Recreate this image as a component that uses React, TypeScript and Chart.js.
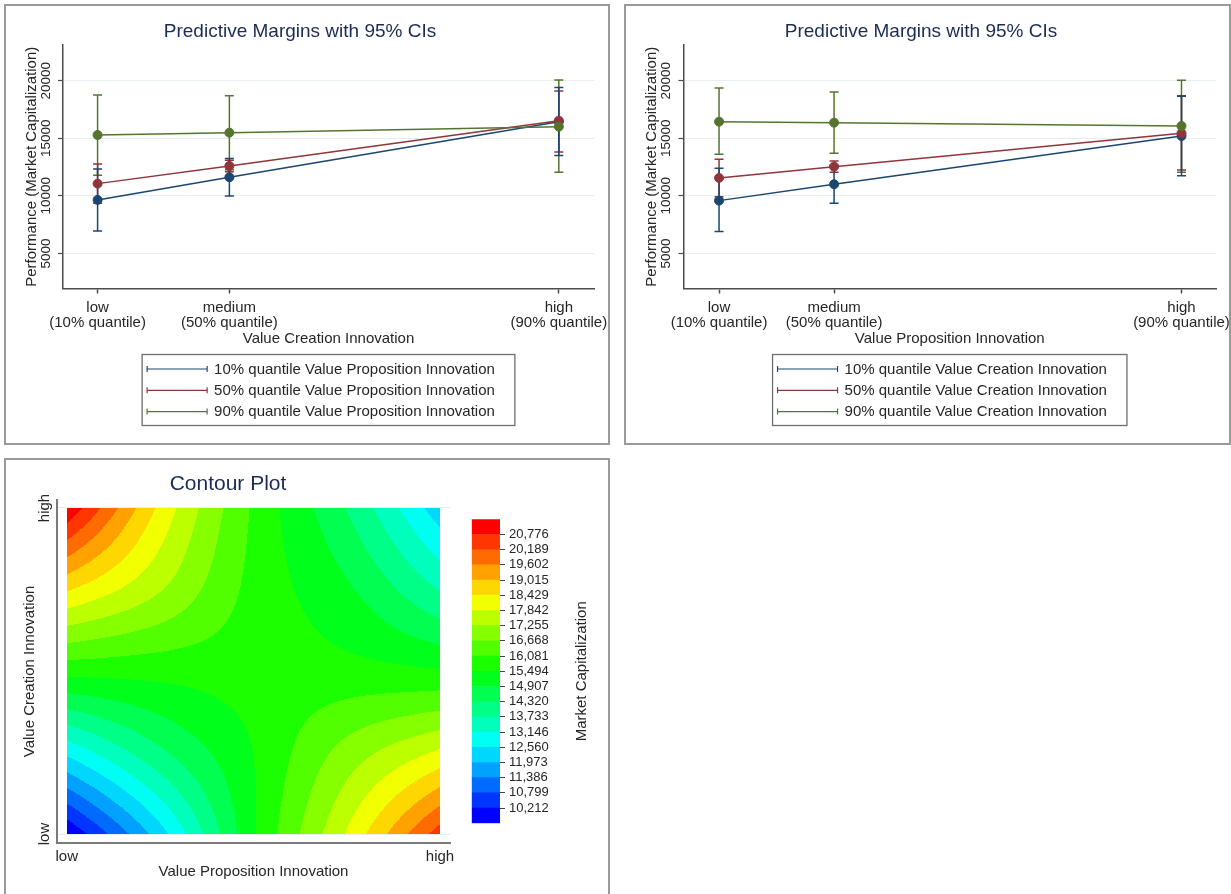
import React, { useEffect, useRef } from 'react';
import { Chart, registerables } from 'chart.js';

Chart.register(...registerables);

const FONT = "'Liberation Sans', Arial, Helvetica, sans-serif";
Chart.defaults.font.family = FONT;

// ---------------- data: predictive margins ----------------
const quantileTickLabels = [
  ['low', '(10% quantile)'],
  ['medium', '(50% quantile)'],
  ['high', '(90% quantile)'],
];
const marginYTicks = [5000, 10000, 15000, 20000];
const marginYRange = [1950, 23100];

// quantile values of the x-axis variable (relative units)
const vciQuantiles = [0, 1, 3.5];
const vpiQuantiles = [0, 1, 4.02];

const vpiSeriesNames = [
  '10% quantile Value Proposition Innovation',
  '50% quantile Value Proposition Innovation',
  '90% quantile Value Proposition Innovation',
];
const vciSeriesNames = [
  '10% quantile Value Creation Innovation',
  '50% quantile Value Creation Innovation',
  '90% quantile Value Creation Innovation',
];

// Panel 1: x = Value Creation Innovation, series = VPI quantile
const p1Margin10 = [9644, 11615, 16441];
const p1Lower10 = [6953, 9991, 13500];
const p1Upper10 = [12335, 13240, 19400];
const p1Margin50 = [11059, 12595, 16528];
const p1Lower50 = [9350, 12100, 13800];
const p1Upper50 = [12770, 13090, 19100];
const p1Margin90 = [15286, 15486, 16007];
const p1Lower90 = [11780, 12274, 12049];
const p1Upper90 = [18759, 18698, 20060];

// Panel 2: x = Value Proposition Innovation, series = VCI quantile
const p2Margin10 = [9583, 11007, 15200];
const p2Lower10 = [6892, 9358, 11750];
const p2Upper10 = [12396, 12656, 18650];
const p2Margin50 = [11553, 12535, 15434];
const p2Lower50 = [9929, 12050, 12250];
const p2Upper50 = [13177, 13020, 18700];
const p2Margin90 = [16441, 16354, 16068];
const p2Lower90 = [13611, 13698, 12050];
const p2Upper90 = [19366, 19019, 20035];

// ---------------- data: contour ----------------
const contourAxisLabels = ['low', 'high'];
const contourVPI = [0, 0.25, 0.5, 0.75, 1];
const contourVCI = [0, 0.25, 0.5, 0.75, 1];
// rows: VCI low -> high, columns: VPI low -> high
const contourZ = [
  [9650, 12300, 15400, 17900, 20500],
  [12700, 14200, 15500, 16900, 17950],
  [15700, 15700, 15750, 15700, 15550],
  [18500, 17300, 15900, 15000, 13700],
  [21300, 18300, 16000, 14300, 12200],
];
const contourLevels = [
  10212, 10799, 11386, 11973, 12560, 13146, 13733, 14320, 14907, 15494,
  16081, 16668, 17255, 17842, 18429, 19015, 19602, 20189, 20776,
];
const contourZRange = [9625, 21363];

// ---------------- styles ----------------
const TEXT = '#262626';
const TITLE = '#1c2b55';
const AXIS = '#4d4d4d';
const GRID = '#e8eff1';
const seriesColors = ['#1a476f', '#90353b', '#55752f'];

function hsvRgb(h: number): [number, number, number] {
  const f = (n: number) => {
    const k = (n + h / 60) % 6;
    return Math.round(255 * (1 - Math.max(0, Math.min(k, 4 - k, 1))));
  };
  return [f(5), f(3), f(1)];
}
const bandCount = contourLevels.length + 1;
const bandRGB = Array.from({ length: bandCount }, (_, k) => hsvRgb(240 - (240 * k) / (bandCount - 1)));
const bandCss = bandRGB.map(([r, g, b]) => `rgb(${r},${g},${b})`);

// ---------------- surface sampling for the filled contour ----------------
function cubic(p0: number, p1: number, p2: number, p3: number, t: number) {
  return p1 + 0.5 * t * (p2 - p0 + t * (2 * p0 - 5 * p1 + 4 * p2 - p3 + t * (3 * (p1 - p2) + p3 - p0)));
}
function nodeAt(arr: number[], i: number) {
  const n = arr.length;
  if (i < 0) return 2 * arr[0] - arr[1];
  if (i >= n) return 2 * arr[n - 1] - arr[n - 2];
  return arr[i];
}
function rowAt(j: number): number[] {
  const m = contourZ.length;
  if (j < 0) return contourZ[0].map((v, i) => 2 * v - contourZ[1][i]);
  if (j >= m) return contourZ[m - 1].map((v, i) => 2 * v - contourZ[m - 2][i]);
  return contourZ[j];
}
function locate(arr: number[], v: number) {
  const n = arr.length;
  const c = Math.max(arr[0], Math.min(arr[n - 1], v));
  let i = 0;
  while (i < n - 2 && c > arr[i + 1]) i++;
  return i + (c - arr[i]) / (arr[i + 1] - arr[i]);
}
function surface(x: number, y: number) {
  const gx = locate(contourVPI, x);
  const gy = locate(contourVCI, y);
  const ix = Math.min(Math.floor(gx), contourVPI.length - 2);
  const iy = Math.min(Math.floor(gy), contourVCI.length - 2);
  const tx = gx - ix;
  const ty = gy - iy;
  const vals = [-1, 0, 1, 2].map((d) => {
    const r = rowAt(iy + d);
    return cubic(nodeAt(r, ix - 1), nodeAt(r, ix), nodeAt(r, ix + 1), nodeAt(r, ix + 2), tx);
  });
  return cubic(vals[0], vals[1], vals[2], vals[3], ty);
}

// ---------------- plugins ----------------
function makeCiLegend(names: string[]) {
  return {
    id: 'ciLegend',
    afterDraw(chart: any) {
      const ctx = chart.ctx;
      const xs = chart.scales.x;
      const ca = chart.chartArea;
      ctx.save();
      ctx.font = `15px ${FONT}`;
      const textW = Math.max(...names.map((n) => ctx.measureText(n).width));
      const boxW = 5 + 60 + 7 + textW + 20;
      const boxH = 71;
      const left = (ca.left + ca.right) / 2 - boxW / 2;
      const top = xs.bottom + 7;
      ctx.strokeStyle = '#6f6f6f';
      ctx.lineWidth = 1.3;
      ctx.strokeRect(left, top, boxW, boxH);
      names.forEach((n, i) => {
        const y = top + 14.5 + i * 21.3;
        const sx0 = left + 5;
        const sx1 = left + 65;
        ctx.strokeStyle = seriesColors[i];
        ctx.lineWidth = 1.2;
        ctx.beginPath();
        ctx.moveTo(sx0, y);
        ctx.lineTo(sx1, y);
        ctx.moveTo(sx0, y - 3);
        ctx.lineTo(sx0, y + 3);
        ctx.moveTo(sx1, y - 3);
        ctx.lineTo(sx1, y + 3);
        ctx.stroke();
        ctx.fillStyle = TEXT;
        ctx.textAlign = 'left';
        ctx.textBaseline = 'middle';
        ctx.fillText(n, left + 72, y + 0.5);
      });
      ctx.restore();
    },
  };
}

const contourFill = {
  id: 'contourFill',
  beforeDatasetsDraw(chart: any) {
    const xs = chart.scales.x;
    const ys = chart.scales.y;
    const x0 = Math.round(xs.getPixelForValue(contourVPI[0]));
    const x1 = Math.round(xs.getPixelForValue(contourVPI[contourVPI.length - 1]));
    const y0 = Math.round(ys.getPixelForValue(contourVCI[contourVCI.length - 1]));
    const y1 = Math.round(ys.getPixelForValue(contourVCI[0]));
    const w = x1 - x0;
    const h = y1 - y0;
    if (w <= 0 || h <= 0) return;
    const off = document.createElement('canvas');
    off.width = w;
    off.height = h;
    const octx = off.getContext('2d')!;
    const img = octx.createImageData(w, h);
    for (let j = 0; j < h; j++) {
      const vy = ys.getValueForPixel(y0 + j + 0.5);
      for (let i = 0; i < w; i++) {
        const vx = xs.getValueForPixel(x0 + i + 0.5);
        const z = surface(vx, vy);
        let k = 0;
        while (k < contourLevels.length && z >= contourLevels[k]) k++;
        const c = bandRGB[k];
        const p = (j * w + i) * 4;
        img.data[p] = c[0];
        img.data[p + 1] = c[1];
        img.data[p + 2] = c[2];
        img.data[p + 3] = 255;
      }
    }
    octx.putImageData(img, 0, 0);
    chart.ctx.drawImage(off, x0, y0);
  },
};

const colorbarTitle = {
  id: 'colorbarTitle',
  afterDraw(chart: any) {
    const ctx = chart.ctx;
    const ca = chart.chartArea;
    ctx.save();
    ctx.translate(119.7, (ca.top + ca.bottom) / 2);
    ctx.rotate(-Math.PI / 2);
    ctx.font = `15px ${FONT}`;
    ctx.fillStyle = TEXT;
    ctx.textAlign = 'center';
    ctx.textBaseline = 'middle';
    ctx.fillText('Market Capitalization', 0, 0);
    ctx.restore();
  },
};

// ---------------- chart configs ----------------
type Series = { margin: number[]; lower: number[]; upper: number[] };

function marginsConfig(opts: {
  xVals: number[];
  xMin: number;
  xMax: number;
  xTitle: string;
  names: string[];
  series: Series[];
  yWidth: number;
  padRight: number;
}): any {
  const { xVals, names, series } = opts;
  const ciSets = series.map((s, i) => ({
    label: names[i] + ' CI',
    data: xVals.flatMap((x, j) => [
      { x, y: s.lower[j] },
      { x, y: s.upper[j] },
      { x, y: null },
    ]),
    showLine: true,
    spanGaps: false,
    borderColor: seriesColors[i],
    borderWidth: 1.5,
    pointStyle: 'line',
    pointRadius: 4.5,
    pointHoverRadius: 4.5,
    pointBorderColor: seriesColors[i],
    pointBorderWidth: 1.5,
    order: 10 + i,
  }));
  const lineSets = series.map((s, i) => ({
    label: names[i],
    data: xVals.map((x, j) => ({ x, y: s.margin[j] })),
    showLine: true,
    borderColor: seriesColors[i],
    borderWidth: 1.5,
    pointStyle: 'circle',
    pointRadius: 4.5,
    pointHoverRadius: 4.5,
    pointBackgroundColor: seriesColors[i],
    pointBorderColor: seriesColors[i],
    pointBorderWidth: 1,
    order: 3 - i,
  }));
  return {
    type: 'scatter',
    data: { datasets: [...ciSets, ...lineSets] },
    options: {
      responsive: false,
      animation: false,
      events: [],
      layout: { padding: { left: 0, right: opts.padRight, top: 0, bottom: 95.5 } },
      plugins: {
        legend: { display: false },
        tooltip: { enabled: false },
        title: {
          display: true,
          text: 'Predictive Margins with 95% CIs',
          color: TITLE,
          font: { size: 19, weight: 'normal', lineHeight: 1.2 },
          padding: { top: 14.6, bottom: 1.6 },
        },
      },
      scales: {
        x: {
          type: 'linear',
          min: opts.xMin,
          max: opts.xMax,
          afterBuildTicks: (s: any) => {
            s.ticks = xVals.map((v) => ({ value: v }));
          },
          afterFit: (s: any) => {
            s.height = 59;
            s.paddingLeft = 0;
            s.paddingRight = 0;
          },
          ticks: {
            autoSkip: false,
            minRotation: 0,
            maxRotation: 0,
            padding: 6.5,
            color: TEXT,
            font: { size: 15, lineHeight: 1 },
            callback: (_v: any, i: number) => quantileTickLabels[i],
          },
          grid: {
            drawOnChartArea: false,
            drawTicks: true,
            tickLength: 5,
            tickColor: AXIS,
            tickWidth: 1.5,
          },
          border: { display: true, color: AXIS, width: 1.5 },
          title: {
            display: true,
            text: opts.xTitle,
            color: TEXT,
            font: { size: 15, lineHeight: 1.2 },
            padding: { top: 0, bottom: 0 },
          },
        },
        y: {
          type: 'linear',
          min: marginYRange[0],
          max: marginYRange[1],
          afterBuildTicks: (s: any) => {
            s.ticks = marginYTicks.map((v) => ({ value: v }));
          },
          afterFit: (s: any) => {
            s.width = opts.yWidth;
          },
          ticks: {
            autoSkip: false,
            minRotation: 90,
            maxRotation: 90,
            crossAlign: 'center',
            padding: -7,
            color: TEXT,
            font: { size: 13.5 },
            callback: (v: any) => String(v),
          },
          grid: {
            color: GRID,
            lineWidth: 1,
            drawTicks: true,
            tickLength: 5,
            tickColor: AXIS,
            tickWidth: 1.2,
          },
          border: { display: true, color: AXIS, width: 1.5 },
          title: {
            display: true,
            text: 'Performance (Market Capitalization)',
            color: TEXT,
            font: { size: 15, lineHeight: 1.2 },
            padding: { top: 17, bottom: 0 },
          },
        },
      },
    },
    plugins: [makeCiLegend(names)],
  };
}

function contourConfig(): any {
  return {
    type: 'scatter',
    data: { datasets: [] },
    options: {
      responsive: false,
      animation: false,
      events: [],
      layout: { padding: { left: 0, right: 50, top: 0, bottom: 13.3 } },
      plugins: {
        legend: { display: false },
        tooltip: { enabled: false },
        title: {
          display: true,
          text: 'Contour Plot',
          color: TITLE,
          font: { size: 21, weight: 'normal', lineHeight: 1.2 },
          padding: { top: 11.4, bottom: 3.4 },
        },
      },
      scales: {
        x: {
          type: 'linear',
          min: -0.026,
          max: 1.0268,
          afterBuildTicks: (s: any) => {
            s.ticks = [contourVPI[0], contourVPI[contourVPI.length - 1]].map((v) => ({ value: v }));
          },
          afterFit: (s: any) => {
            s.height = 37.7;
            s.paddingLeft = 0;
            s.paddingRight = 0;
          },
          ticks: {
            autoSkip: false,
            minRotation: 0,
            maxRotation: 0,
            padding: 6.5,
            color: TEXT,
            font: { size: 15, lineHeight: 1 },
            callback: (_v: any, i: number) => contourAxisLabels[i],
          },
          grid: { drawOnChartArea: false, drawTicks: false },
          border: { display: true, color: '#7a7a7a', width: 2 },
          title: {
            display: true,
            text: 'Value Proposition Innovation',
            color: TEXT,
            font: { size: 15, lineHeight: 1.2 },
            padding: { top: 0, bottom: 0 },
          },
        },
        y: {
          type: 'linear',
          min: -0.0276,
          max: 1.0245,
          afterBuildTicks: (s: any) => {
            s.ticks = [contourVCI[0], contourVCI[contourVCI.length - 1]].map((v) => ({ value: v }));
          },
          afterFit: (s: any) => {
            s.width = 51;
          },
          ticks: {
            autoSkip: false,
            minRotation: 90,
            maxRotation: 90,
            crossAlign: 'center',
            padding: -2.2,
            color: TEXT,
            font: { size: 15 },
            callback: (_v: any, i: number) => contourAxisLabels[i],
          },
          grid: { color: GRID, lineWidth: 1, drawTicks: false },
          border: { display: true, color: '#7a7a7a', width: 2 },
          title: {
            display: true,
            text: 'Value Creation Innovation',
            color: TEXT,
            font: { size: 15, lineHeight: 1.2 },
            padding: { top: 14.4, bottom: 0 },
          },
        },
      },
    },
    plugins: [contourFill],
  };
}

function colorbarConfig(): any {
  const edges = [contourZRange[0], ...contourLevels, contourZRange[1]];
  const datasets = bandCss.map((c, k) => ({
    label: `band ${k}`,
    data: [[edges[k], edges[k + 1]]],
    backgroundColor: c,
    borderWidth: 0,
    grouped: false,
    barPercentage: 1,
    categoryPercentage: 1,
  }));
  return {
    type: 'bar',
    data: { labels: [''], datasets },
    options: {
      responsive: false,
      animation: false,
      events: [],
      layout: { padding: { left: 9.7, right: 0, top: 19.3, bottom: 16.7 } },
      plugins: { legend: { display: false }, tooltip: { enabled: false }, title: { display: false } },
      scales: {
        x: { display: false },
        y: {
          position: 'right',
          min: contourZRange[0],
          max: contourZRange[1],
          afterBuildTicks: (s: any) => {
            s.ticks = contourLevels.map((v) => ({ value: v }));
          },
          afterFit: (s: any) => {
            s.width = 108;
          },
          ticks: {
            autoSkip: false,
            padding: 4,
            color: TEXT,
            font: { size: 13 },
            callback: (v: any) => Number(v).toLocaleString('en-US'),
          },
          grid: { drawOnChartArea: false, drawTicks: true, tickLength: 5, tickColor: '#444', tickWidth: 1 },
          border: { display: false },
        },
      },
    },
    plugins: [colorbarTitle],
  };
}

// ---------------- components ----------------
function ChartCanvas(props: { make: () => any; left: number; top: number; width: number; height: number }) {
  const ref = useRef<HTMLCanvasElement | null>(null);
  useEffect(() => {
    if (!ref.current) return;
    const chart = new Chart(ref.current, props.make());
    return () => chart.destroy();
  }, []);
  return (
    <canvas
      ref={ref}
      width={props.width}
      height={props.height}
      style={{ position: 'absolute', left: props.left, top: props.top, width: props.width, height: props.height }}
    />
  );
}

const frameStyle = (left: number, top: number, width: number, height: number): React.CSSProperties => ({
  position: 'absolute',
  left,
  top,
  width,
  height,
  boxSizing: 'border-box',
  border: '2px solid #9a9a9a',
  background: '#ffffff',
});

export default function App() {
  const panel1 = () =>
    marginsConfig({
      xVals: vciQuantiles,
      xMin: -0.2625,
      xMax: 3.767,
      xTitle: 'Value Creation Innovation',
      names: vpiSeriesNames,
      series: [
        { margin: p1Margin10, lower: p1Lower10, upper: p1Upper10 },
        { margin: p1Margin50, lower: p1Lower50, upper: p1Upper50 },
        { margin: p1Margin90, lower: p1Lower90, upper: p1Upper90 },
      ],
      yWidth: 57,
      padRight: 14,
    });
  const panel2 = () =>
    marginsConfig({
      xVals: vpiQuantiles,
      xMin: -0.309,
      xMax: 4.32,
      xTitle: 'Value Proposition Innovation',
      names: vciSeriesNames,
      series: [
        { margin: p2Margin10, lower: p2Lower10, upper: p2Upper10 },
        { margin: p2Margin50, lower: p2Lower50, upper: p2Upper50 },
        { margin: p2Margin90, lower: p2Lower90, upper: p2Upper90 },
      ],
      yWidth: 57.5,
      padRight: 13,
    });

  return (
    <div
      style={{
        position: 'absolute',
        left: 0,
        top: 0,
        width: 1231,
        height: 894,
        overflow: 'hidden',
        background: '#ffffff',
        fontFamily: FONT,
      }}
    >
      <div style={frameStyle(4, 4, 606, 441)} />
      <div style={frameStyle(624, 4, 607, 441)} />
      <div style={frameStyle(4, 458, 606, 460)} />
      <ChartCanvas make={panel1} left={6} top={6} width={602} height={437} />
      <ChartCanvas make={panel2} left={626} top={6} width={603} height={437} />
      <ChartCanvas make={contourConfig} left={6} top={460} width={494} height={434} />
      <ChartCanvas make={colorbarConfig} left={462} top={500} width={146} height={340} />
    </div>
  );
}
